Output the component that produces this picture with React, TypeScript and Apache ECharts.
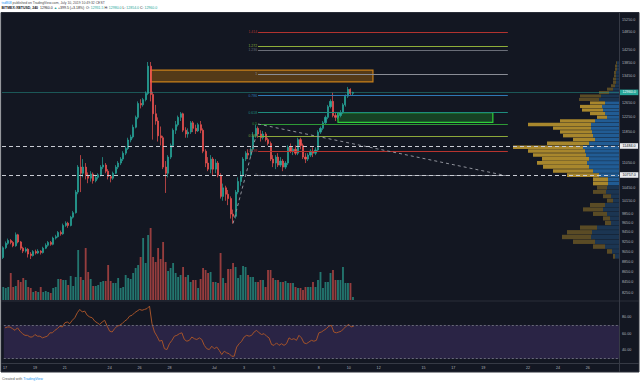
import { useEffect, useRef } from 'react';
import * as echarts from 'echarts';

// ---------- data ----------
const SLOT_COUNT = 247; // 4h slots from 17 Jun 2019 (candles + empty future area)
const START_UTC = Date.UTC(2019, 5, 17, 0, 0);

// [open, close, low, high] — BITMEX:XBTUSD 4h
const CANDLES: number[][] = [
  [8930, 9130, 8900, 9160], [9130, 9220, 9100, 9260], [9220, 9280, 9190, 9320], [9280, 9240, 9200, 9310],
  [9240, 9170, 9140, 9270], [9170, 9400, 9150, 9450], [9400, 9250, 9220, 9420], [9250, 9120, 9080, 9270],
  [9120, 9060, 9020, 9150], [9060, 9100, 9030, 9140], [9100, 9000, 8930, 9120], [9000, 8970, 8900, 9040],
  [8970, 9050, 8950, 9080], [9050, 9020, 8990, 9090], [9020, 9060, 9000, 9100], [9060, 9030, 8990, 9080],
  [9030, 9120, 9010, 9150], [9120, 9180, 9100, 9220], [9180, 9240, 9150, 9270], [9240, 9200, 9170, 9270],
  [9200, 9330, 9180, 9360], [9330, 9360, 9300, 9400], [9360, 9450, 9340, 9480], [9450, 9420, 9380, 9490],
  [9420, 9600, 9400, 9640], [9600, 9650, 9570, 9690], [9650, 9600, 9550, 9680], [9600, 9780, 9580, 9810],
  [9780, 9880, 9750, 9920], [9880, 10350, 9860, 10400], [10350, 10950, 10300, 11000], [10950, 10800, 10350, 11250],
  [10800, 10950, 10700, 11150], [10950, 10750, 10650, 11050], [10750, 10680, 10560, 10820], [10680, 10780, 10600, 10850],
  [10780, 10620, 10550, 10820], [10620, 10700, 10580, 10760], [10700, 10760, 10650, 10800], [10760, 10950, 10720, 11000],
  [10950, 11000, 10900, 11200], [11000, 10850, 10800, 11050], [10850, 10720, 10650, 10900], [10720, 10680, 10580, 10760],
  [10680, 10800, 10640, 10840], [10800, 10950, 10780, 11000], [10950, 11050, 10900, 11100], [11050, 11150, 11000, 11200],
  [11150, 11300, 11100, 11350], [11300, 11420, 11250, 11480], [11420, 11640, 11380, 11700], [11640, 11720, 11580, 11780],
  [11720, 11980, 11680, 12050], [11980, 12250, 11950, 12300], [12250, 12640, 12200, 12700], [12640, 12600, 12500, 12760],
  [12600, 12750, 12550, 12800], [12750, 12930, 12700, 12990], [12930, 13750, 12880, 13880], [13750, 12900, 12700, 13880],
  [12900, 12350, 11650, 12980], [12350, 12150, 12050, 12600], [12150, 11750, 11600, 12250], [11750, 11700, 11500, 12000],
  [11700, 10950, 10900, 11750], [10950, 10800, 10330, 11100], [10800, 11200, 10700, 11250], [11200, 11500, 11150, 11550],
  [11500, 11900, 11450, 11950], [11900, 12050, 11800, 12150], [12050, 12250, 12000, 12300], [12250, 12350, 12150, 12400],
  [12350, 11900, 11850, 12380], [11900, 11800, 11700, 11980], [11800, 11850, 11700, 11950], [11850, 12100, 11800, 12150],
  [12100, 11950, 11850, 12150], [11950, 11880, 11800, 12050], [11880, 12050, 11850, 12100], [12050, 11900, 11820, 12150],
  [11900, 11350, 11300, 11950], [11350, 11050, 10950, 11400], [11050, 10900, 10850, 11200], [10900, 11150, 10800, 11250],
  [11150, 10900, 10750, 11200], [10900, 11050, 10800, 11150], [11050, 10750, 10700, 11100], [10750, 10250, 10200, 10800],
  [10250, 10450, 10150, 10550], [10450, 10300, 10150, 10500], [10300, 10200, 10050, 10400], [10200, 9850, 9750, 10250],
  [9850, 9800, 9640, 9950], [9800, 10350, 9750, 10400], [10350, 10600, 10300, 10700], [10600, 10750, 10500, 10850],
  [10750, 11150, 10700, 11200], [11150, 11300, 11100, 11350], [11300, 11250, 11150, 11400], [11250, 11400, 11200, 11450],
  [11400, 11750, 11350, 11850], [11750, 11950, 11700, 12050], [11950, 11800, 11700, 12000], [11800, 11700, 11600, 11900],
  [11700, 11800, 11650, 11880], [11800, 11650, 11600, 11850], [11650, 11550, 11500, 11700], [11550, 11150, 11100, 11600],
  [11150, 11050, 10950, 11250], [11050, 11200, 10900, 11250], [11200, 11000, 10950, 11300], [11000, 11100, 10950, 11200],
  [11100, 10950, 10850, 11150], [10950, 11050, 10900, 11100], [11050, 11450, 11000, 11500], [11450, 11350, 11300, 11550],
  [11350, 11400, 11250, 11450], [11400, 11300, 11250, 11500], [11300, 11650, 11250, 11700], [11650, 11500, 11400, 11700],
  [11500, 11200, 11150, 11550], [11200, 11150, 11050, 11300], [11150, 11250, 11100, 11300], [11250, 11350, 11200, 11400],
  [11350, 11300, 11200, 11450], [11300, 11380, 11250, 11450], [11380, 11850, 11350, 11900], [11850, 11950, 11800, 12000],
  [11950, 12100, 11900, 12150], [12100, 12250, 12050, 12300], [12250, 12550, 12200, 12600], [12550, 12700, 12500, 12760],
  [12700, 12300, 12250, 12950], [12300, 12250, 12150, 12400], [12250, 12300, 12200, 12400], [12300, 12380, 12250, 12450],
  [12380, 12600, 12350, 12650], [12600, 12850, 12550, 12900], [12850, 13050, 12800, 13120], [13050, 12930, 12854, 13080],
  [12931.5, 12960, 12854, 12980],
];

// volume per candle (M contracts, approx.)
const VOLUMES: number[] = [
  130, 120, 130, 270, 130, 140, 200, 180, 220, 200, 130, 120, 80, 90, 80, 130, 80, 90, 80, 70,
  120, 130, 210, 210, 200, 200, 150, 240, 140, 230, 500, 230, 200, 520, 280, 210, 140, 140, 150, 180,
  190, 190, 350, 190, 170, 170, 220, 120, 130, 250, 220, 210, 270, 320, 350, 430, 620, 370, 650, 720,
  430, 380, 520, 410, 580, 380, 290, 320, 370, 270, 230, 250, 330, 230, 250, 180, 200, 200, 120, 210,
  320, 300, 270, 280, 180, 180, 170, 470, 220, 170, 310, 310, 370, 330, 220, 250, 340, 330, 250, 230,
  230, 180, 180, 200, 200, 130, 300, 300, 220, 200, 200, 180, 180, 190, 170, 170, 170, 130, 120, 120,
  100, 130, 130, 130, 180, 130, 200, 280, 120, 180, 180, 270, 300, 200, 200, 200, 330, 170, 170, 170,
  30,
];

// RSI(14)
const RSI: number[] = [
  67, 68, 68, 66, 64, 67, 63, 60, 58, 58, 56, 56, 59, 57, 57, 55, 56, 57, 61, 61,
  64, 66, 69, 68, 73, 74, 72, 76, 79, 85, 89, 86, 87, 82, 80, 79, 75, 73, 71, 74,
  76, 69, 63, 62, 66, 69, 70, 72, 75, 77, 81, 82, 85, 87, 89, 88, 89, 90, 93, 72,
  62, 57, 51, 52, 42, 41, 48, 52, 57, 58, 60, 61, 53, 51, 52, 56, 54, 53, 55, 53,
  46, 42, 41, 45, 42, 44, 40, 35, 39, 37, 36, 33, 33, 44, 48, 51, 56, 58, 57, 58,
  62, 64, 61, 59, 60, 57, 55, 47, 46, 49, 46, 48, 46, 48, 55, 53, 54, 52, 58, 55,
  49, 48, 50, 52, 51, 52, 61, 62, 64, 66, 69, 70, 62, 61, 62, 63, 66, 69, 71, 68,
  69,
];

const TIME_TICK_SLOTS = [0, 12, 24, 42, 54, 66, 84, 96, 108, 126, 138, 150, 168, 180, 192, 210, 222, 234];
const TIME_TICK_LABELS = ['17', '19', '21', '24', '26', '28', 'Jul', '3', '5', '8', '10', '12', '15', '17', '19', '22', '24', '26'];
const PRICE_TICKS = [15250, 14850, 14250, 13850, 13450, 12650, 12250, 11850, 11050, 10450, 10150, 9850, 9650, 9450, 9250, 9050, 8850, 8650, 8450, 8250];
const RSI_TICKS = [80, 60, 40];

// Visible range volume profile (rows of 100 USD)
const PROFILE_LOW = [
  8900, 9000, 9100, 9200, 9300, 9400, 9500, 9600, 9700, 9800, 9900, 10000, 10100, 10200, 10300, 10400, 10500,
  10600, 10700, 10800, 10900, 11000, 11100, 11200, 11300, 11400, 11500, 11600, 11700, 11800, 11900, 12000,
  12100, 12200, 12300, 12400, 12500, 12600, 12700, 12800, 12900, 13000, 13100, 13200, 13300, 13400, 13500,
  13600, 13700, 13800,
];
const PROFILE_STEP = 100;
const PROFILE_UP = [
  4, 7, 14, 24, 28, 27, 22, 8, 9, 12, 16, 14, 6, 8, 13, 12, 11,
  11, 20, 26, 30, 32, 30, 33, 34, 36, 30, 24, 26, 27, 28, 28,
  24, 12, 14, 16, 17, 14, 20, 18, 10, 6, 4, 3, 3, 3, 3,
  2, 2, 2,
];
const PROFILE_DOWN = [
  2, 5, 12, 22, 29, 25, 17, 6, 7, 14, 20, 15, 6, 8, 13, 10, 15,
  15, 32, 40, 46, 50, 47, 53, 57, 70, 42, 22, 30, 32, 38, 63,
  35, 10, 15, 21, 22, 15, 20, 21, 10, 6, 4, 3, 3, 2, 2,
  2, 2, 1,
];
const VALUE_AREA = [10500, 12600];

// Fibonacci retracement drawn 10757 -> 13509
const FIB_LABELS = ['1.414', '1.272', '1.236', '1', '0.786', '0.618', '0.5', '0.382', '0.236', '0'];
const FIB_PRICES = [14845, 14373, 14255, 13509, 12866, 12383, 12055, 11735, 11351, 10757];
const FIB_SLOTS = [102, 202];

const LAST_PRICE = 12960;
const COUNTDOWN = '03:10:28';
const COUNTDOWN_PRICE = 12790;
const LEVELS = [11484, 10757];
const ORANGE_BOX = { slots: [59, 148], prices: [13630, 13268] };
const GREEN_BOX = { slots: [134, 196], prices: [12380, 12114] };
const TREND_DOWN = { slots: [102, 200], prices: [12068, 10757] };
const TREND_UP = { slots: [92, 101], prices: [9644, 11700] };

// ---------- styles ----------
const FONT = '"Liberation Sans", Arial, sans-serif';
const UP = '#26a69a';
const DOWN = '#ef5350';
const VOL_UP = '#23766f';
const VOL_DOWN = '#963d3e';
const FIB_COLORS = ['#b2332f', '#8fae3a', '#6a6e78', '#8a8d96', '#2f78b5', '#1e8c7e', '#2e9a36', '#8ca83a', '#b8342f', '#787b86'];
const AXIS_TEXT = '#b2b5be';

export default function App() {
  const ref = useRef<HTMLDivElement>(null);

  useEffect(() => {
    const chart = echarts.init(ref.current as HTMLDivElement, null, { renderer: 'svg' });

    const cats = Array.from({ length: SLOT_COUNT }, (_, i) =>
      new Date(START_UTC + i * 4 * 3600e3).toISOString().slice(0, 16)
    );
    const tickMap = new Map<number, string>(TIME_TICK_SLOTS.map((s, k) => [s, TIME_TICK_LABELS[k]]));

    const fibLines = FIB_LABELS.map((lab, k) => [
      {
        coord: [FIB_SLOTS[0], FIB_PRICES[k]],
        lineStyle: { color: FIB_COLORS[k], width: 1, type: 'solid' },
        label: { show: true, position: 'start', formatter: lab, color: FIB_COLORS[k], fontSize: 3.4, distance: 1 },
      },
      { coord: [FIB_SLOTS[1], FIB_PRICES[k]] },
    ]);

    const endLabel = (text: string, bg: string, fg: string) => ({
      show: true,
      position: 'end',
      formatter: text,
      backgroundColor: bg,
      color: fg,
      fontSize: 3.7,
      padding: [1, 2.5, 0.6, 2.5],
      distance: 1,
    });

    const option: any = {
      animation: false,
      backgroundColor: '#ffffff',
      textStyle: { fontFamily: FONT },
      grid: [
        { left: 2, right: 21, top: 13, height: 288 },
        { left: 2, right: 21, top: 200, height: 100 },
        { left: 2, right: 21, top: 301, height: 62 },
      ],
      xAxis: [
        { type: 'category', gridIndex: 0, data: cats, boundaryGap: true, show: false },
        { type: 'value', gridIndex: 0, position: 'top', inverse: true, min: 0, max: 617, show: false },
        { type: 'category', gridIndex: 1, data: cats, boundaryGap: true, show: false },
        {
          type: 'category', gridIndex: 2, data: cats, boundaryGap: true,
          axisLine: { show: false }, axisTick: { show: false }, splitLine: { show: false },
          axisLabel: {
            interval: (i: number) => tickMap.has(i),
            formatter: (_v: string, i: number) => tickMap.get(i) ?? '',
            color: AXIS_TEXT, fontSize: 3.7, margin: 3,
          },
        },
      ],
      yAxis: [
        {
          type: 'log', gridIndex: 0, position: 'right', min: 8096, max: 15501,
          axisLine: { show: false }, axisTick: { show: false }, splitLine: { show: false },
          axisLabel: {
            customValues: PRICE_TICKS,
            formatter: (v: number) => Number(v).toFixed(1),
            color: AXIS_TEXT, fontSize: 3.7, margin: 3,
          },
        },
        { type: 'value', gridIndex: 1, min: 0, max: 1000, show: false },
        {
          type: 'value', gridIndex: 2, position: 'right', min: 24.9, max: 99.1,
          axisLine: { show: false }, axisTick: { show: false }, splitLine: { show: false },
          axisLabel: {
            customValues: RSI_TICKS,
            formatter: (v: number) => Number(v).toFixed(2),
            color: AXIS_TEXT, fontSize: 3.7, margin: 3,
          },
        },
      ],
      series: [
        {
          type: 'custom',
          name: 'VPVR',
          xAxisIndex: 1,
          yAxisIndex: 0,
          z: 1,
          silent: true,
          encode: { x: 2, y: 0 },
          data: PROFILE_LOW.map((lo, k) => [
            lo, lo + PROFILE_STEP, PROFILE_UP[k], PROFILE_DOWN[k],
            lo >= VALUE_AREA[0] && lo <= VALUE_AREA[1] ? 1 : 0,
          ]),
          renderItem: (_params: any, api: any) => {
            const low = api.value(0);
            const high = api.value(1);
            const up = api.value(2);
            const down = api.value(3);
            const va = api.value(4) === 1;
            const pRight = api.coord([0, high]);
            const pUp = api.coord([up, low]);
            const pTot = api.coord([up + down, low]);
            const yTop = pRight[1];
            const h = Math.max(0.6, pUp[1] - yTop - 0.35);
            return {
              type: 'group',
              children: [
                {
                  type: 'rect',
                  shape: { x: pUp[0], y: yTop, width: pRight[0] - pUp[0], height: h },
                  style: { fill: va ? '#215c94' : '#1b3552' },
                },
                {
                  type: 'rect',
                  shape: { x: pTot[0], y: yTop, width: pUp[0] - pTot[0], height: h },
                  style: { fill: va ? '#a8872d' : '#5a4b25' },
                },
              ],
            };
          },
        },
        {
          type: 'bar',
          name: 'Volume',
          xAxisIndex: 2,
          yAxisIndex: 1,
          barWidth: '74%',
          silent: true,
          data: VOLUMES.map((v, i) => ({
            value: v,
            itemStyle: { color: CANDLES[i][1] >= CANDLES[i][0] ? VOL_UP : VOL_DOWN },
          })),
        },
        {
          type: 'candlestick',
          name: 'XBTUSD',
          xAxisIndex: 0,
          yAxisIndex: 0,
          z: 3,
          barWidth: '62%',
          data: CANDLES,
          itemStyle: { color: UP, color0: DOWN, borderColor: UP, borderColor0: DOWN, borderWidth: 0.7 },
          markArea: {
            silent: true,
            label: { show: false },
            data: [
              [
                {
                  coord: [ORANGE_BOX.slots[0], ORANGE_BOX.prices[0]],
                  itemStyle: { color: 'rgba(255,152,0,0.28)', borderColor: '#c8801a', borderWidth: 1.2 },
                },
                { coord: [ORANGE_BOX.slots[1], ORANGE_BOX.prices[1]] },
              ],
              [
                {
                  coord: [GREEN_BOX.slots[0], GREEN_BOX.prices[0]],
                  itemStyle: { color: 'rgba(30,160,40,0.32)', borderColor: '#2fcf3a', borderWidth: 1.2 },
                },
                { coord: [GREEN_BOX.slots[1], GREEN_BOX.prices[1]] },
              ],
            ],
          },
          markLine: {
            silent: true,
            symbol: ['none', 'none'],
            precision: 1,
            data: [
              ...fibLines,
              [
                { coord: [TREND_DOWN.slots[0], TREND_DOWN.prices[0]], lineStyle: { color: '#8f929b', width: 1, type: [3, 3] }, label: { show: false } },
                { coord: [TREND_DOWN.slots[1], TREND_DOWN.prices[1]] },
              ],
              [
                { coord: [TREND_UP.slots[0], TREND_UP.prices[0]], lineStyle: { color: '#8f929b', width: 1, type: [3, 3] }, label: { show: false } },
                { coord: [TREND_UP.slots[1], TREND_UP.prices[1]] },
              ],
              {
                yAxis: LAST_PRICE,
                lineStyle: { color: 'rgba(38,166,154,0.45)', width: 1, type: 'solid' },
                label: endLabel(LAST_PRICE.toFixed(1), UP, '#ffffff'),
              },
              {
                yAxis: COUNTDOWN_PRICE,
                lineStyle: { opacity: 0 },
                label: endLabel(COUNTDOWN, UP, '#ffffff'),
              },
              ...LEVELS.map((p) => ({
                yAxis: p,
                lineStyle: { color: '#c9ccd4', width: 1.2, type: [4, 3] },
                label: endLabel(p.toFixed(1), '#e9eaee', '#131722'),
              })),
            ],
          },
        },
        {
          type: 'line',
          name: 'RSI',
          xAxisIndex: 3,
          yAxisIndex: 2,
          data: RSI,
          symbol: 'none',
          silent: true,
          lineStyle: { color: '#a4532a', width: 1 },
          markArea: {
            silent: true,
            itemStyle: { color: 'rgba(126,87,194,0.22)' },
            data: [[{ yAxis: 70 }, { yAxis: 30 }]],
          },
          markLine: {
            silent: true,
            symbol: ['none', 'none'],
            label: { show: false },
            lineStyle: { color: '#787b86', width: 0.8, type: [2, 2] },
            data: [{ yAxis: 70 }, { yAxis: 30 }],
          },
        },
      ],
      graphic: [
        { type: 'rect', z: -10, silent: true, shape: { x: 1, y: 12.5, width: 638, height: 359.5 }, style: { fill: '#131722' } },
        { type: 'line', silent: true, shape: { x1: 1, y1: 301, x2: 639, y2: 301 }, style: { stroke: '#2a2e39', lineWidth: 1 } },
        { type: 'line', silent: true, shape: { x1: 1, y1: 363.5, x2: 639, y2: 363.5 }, style: { stroke: '#363a45', lineWidth: 1 } },
        { type: 'line', silent: true, shape: { x1: 619.5, y1: 12.5, x2: 619.5, y2: 372 }, style: { stroke: '#363a45', lineWidth: 1 } },
        { type: 'rect', silent: true, shape: { x: 1, y: 12.5, width: 638, height: 359.5 }, style: { fill: 'none', stroke: '#2a2e39', lineWidth: 1 } },
        {
          type: 'text', silent: true, x: 1.5, y: 3.3,
          style: {
            text: '{u|tsd808} {n|published on TradingView.com, July 10, 2019 10:49:32 CEST}',
            fontSize: 3.4, fontFamily: FONT, verticalAlign: 'middle',
            rich: { u: { fill: '#2196f3', fontSize: 3.4 }, n: { fill: '#4a4a4a', fontSize: 3.4 } },
          },
        },
        {
          type: 'text', silent: true, x: 1.5, y: 8.4,
          style: {
            text: '{b|BITMEX:XBTUSD, 240}  {n|12960.0} {g|▲} {n|+399.5 (+3.18%)}  {n|O:} {g|12931.5} {n|H:} {g|12980.0} {n|L:} {g|12854.0} {n|C:} {g|12960.0}',
            fontSize: 3.5, fontFamily: FONT, verticalAlign: 'middle',
            rich: {
              b: { fill: '#131722', fontWeight: 'bold', fontSize: 3.5 },
              n: { fill: '#222222', fontSize: 3.5 },
              g: { fill: '#26a69a', fontSize: 3.5 },
            },
          },
        },
        {
          type: 'text', silent: true, x: 2, y: 378.8,
          style: {
            text: '{g|Created with} {b|TradingView}',
            fontSize: 3.6, fontFamily: FONT, verticalAlign: 'middle',
            rich: { g: { fill: '#555555', fontSize: 3.6 }, b: { fill: '#2196f3', fontSize: 3.6 } },
          },
        },
      ],
    };

    chart.setOption(option);
    return () => chart.dispose();
  }, []);

  return <div ref={ref} style={{ position: 'fixed', left: 0, top: 0, width: 640, height: 384 }} />;
}
